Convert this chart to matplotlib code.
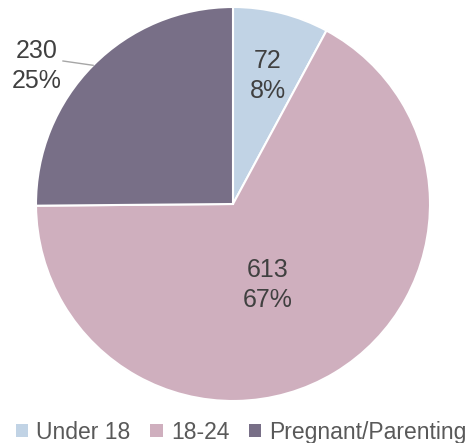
import numpy as np
import matplotlib
matplotlib.use("Agg")
import matplotlib.pyplot as plt
from matplotlib.patches import Patch

labels = ["Under 18", "18-24", "Pregnant/Parenting"]
counts = [72, 613, 230]
colors = ["#c1d3e5", "#cfafbe", "#786f87"]

plt.rcParams['font.family'] = ['Liberation Sans', 'DejaVu Sans']

fig = plt.figure(figsize=(4.73, 4.43), dpi=100)
ax = fig.add_axes([0, 0, 1, 1])

cx, cy, r = 233, 239, 197
wedges, _ = ax.pie(counts, colors=colors, startangle=90, counterclock=False,
                   center=(cx, cy), radius=r, frame=True,
                   wedgeprops=dict(edgecolor='white', linewidth=1.5))
ax.set_xlim(0, 473)
ax.set_ylim(0, 443)
ax.set_aspect('equal')
ax.axis('off')

total = sum(counts)
pcts = [round(c / total * 100) for c in counts]
txt = [f"{c}\n{p}%" for c, p in zip(counts, pcts)]

# label spots (pixel-ish coords)
kw = dict(ha='center', va='center', fontsize=18, color='#404040', linespacing=1.3)
ax.text(268, 367, txt[0], **kw)
ax.text(268, 158, txt[1], **kw)
ax.text(37, 377, txt[2], **kw)

# leader line for the outside label
ang = np.deg2rad(90 + 360 * (counts[2] / 2) / total)
ex, ey = cx + r * np.cos(ang), cy + r * np.sin(ang)
ax.plot([63, ex], [382, ey], color='#a6a6a6', linewidth=1)

handles = [Patch(facecolor=c, edgecolor='none') for c in colors]
fig.legend(handles, labels, loc='lower center', bbox_to_anchor=(0.51, -0.048),
           ncol=3, frameon=False, fontsize=16.5, handlelength=0.55,
           handleheight=0.55, handletextpad=0.35, columnspacing=0.85,
           labelcolor='#595959')

fig.savefig("out.png", dpi=100)
